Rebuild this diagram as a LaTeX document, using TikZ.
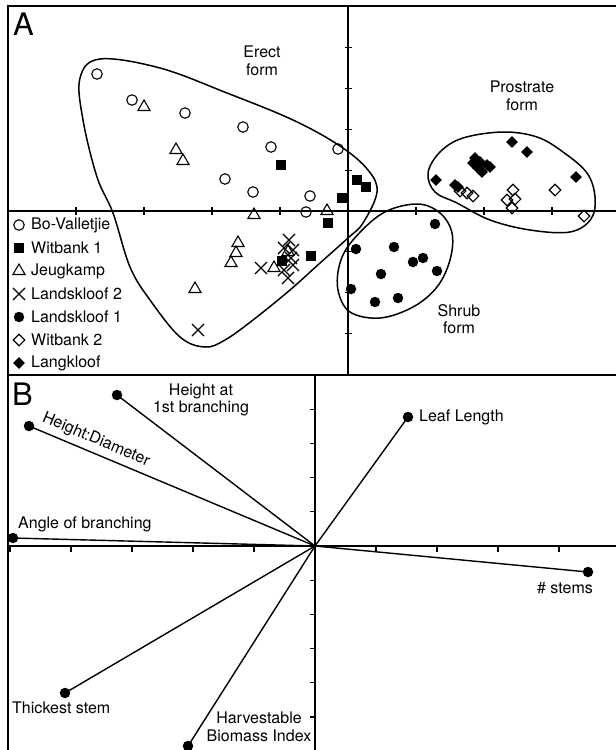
\documentclass[tikz,border=0pt]{standalone}
\usepackage{fontspec}
\setmainfont{TeX Gyre Heros}
\usetikzlibrary{shapes.geometric,shapes.misc}

\tikzset{
  mk/.style={inner sep=0pt, line width=1.1pt},
  bv/.style={mk, circle, draw, minimum size=10.5pt},
  wbone/.style={mk, rectangle, fill, minimum size=10pt},
  jk/.style={mk, regular polygon, regular polygon sides=3, draw, minimum size=14pt},
  lstwo/.style={mk, cross out, draw, minimum size=11pt},
  lsone/.style={mk, circle, fill, minimum size=10.5pt},
  wbtwo/.style={mk, diamond, draw, minimum size=12pt},
  lk/.style={mk, diamond, fill, minimum size=12pt},
  lbl/.style={font=\fontsize{16}{17.5}\selectfont, align=center, inner sep=0pt},
  panel/.style={font=\fontsize{31}{31}\selectfont, inner sep=0pt, anchor=north west},
  tipdot/.style={circle, fill, inner sep=0pt, minimum size=10.5pt},
  vec/.style={line width=1.4pt},
  hull/.style={line width=1.5pt},
  ax/.style={line width=1.2pt},
  frame/.style={line width=1.5pt},
}

\begin{document}
\begin{tikzpicture}[x=1pt,y=-1pt]
\useasboundingbox[fill=white] (0,0) rectangle (616,750);
% frames
\draw[frame] (616,6) -- (8,6) -- (8,750);
\draw[frame] (8,375) -- (616,375);

% panel A axes
\draw[ax] (8,211) -- (616,211);
\draw[ax] (348,6) -- (348,375);
\foreach \k in {1,...,4} {
  \draw[ax] (348-68*\k,207) -- (348-68*\k,215);
  \draw[ax] (348+68*\k,207) -- (348+68*\k,215);
}
\foreach \k in {1,...,4} \draw[ax] (344.5,211-40.8*\k) -- (351.5,211-40.8*\k);
\foreach \k in {1,...,3} \draw[ax] (344.5,211+40.8*\k) -- (351.5,211+40.8*\k);

% hulls
\draw[hull] plot[smooth cycle, tension=0.6] coordinates {(100,59) (160,68) (227,93) (293,120) (340,146) (368,170) (377,192) (363,223) (348,238) (320,263) (290,290) (253,320) (225,340) (205,347) (180,337) (150,300) (130,267) (113,213) (97,177) (83,120) (80,78)};
\draw[hull] plot[smooth cycle, tension=0.6] coordinates {(417,204) (440,213) (452,233) (450,260) (437,287) (413,307) (380,318) (350,312) (338,290) (340,263) (353,240) (383,213)};
\draw[hull] plot[smooth cycle, tension=0.6] coordinates {(428,173) (440,152) (463,138) (503,132) (537,137) (563,152) (587,173) (595,197) (591,219) (570,232) (530,230) (490,220) (457,203) (435,192)};

\node[lbl] (erect) at (262,61) {Erect\\form};
\node[lbl] (prostrate) at (522,96) {Prostrate\\form};
\node[lbl] (shrub) at (459,319) {Shrub\\form};

% data points
\foreach \x/\y [count=\i] in {97/74,132/100,185/113,243/127,271/147,338/149,225/179,253/192,310/196,306/212}
  \node[bv] (bv\i) at (\x,\y) {};
\foreach \x/\y [count=\i] in {144/107,176/150,183/161,254/215,327/211,238/243,236/253,231/263,195/289,274/268,288/252}
  \node[jk] (jk\i) at (\x,\y) {};
\foreach \x/\y [count=\i] in {281/165,357/180,366/187,342/198,328/223,311/256,282/261}
  \node[wbone] (wbone\i) at (\x,\y) {};
\foreach \x/\y [count=\i] in {198/330,261/268,289/240,284/248,293/250,291/258,293/265,284/270,288/278}
  \node[lstwo] (lstwo\i) at (\x,\y) {};
\foreach \x/\y [count=\i] in {435/224,356/249,394/247,413/262,423/258,437/271,381/274,351/289,375/302,398/298}
  \node[lsone] (lsone\i) at (\x,\y) {};
\foreach \x/\y [count=\i] in {460/191,467/193,473/196,513/190,507/200,515/199,512/208,555/190,584/216}
  \node[wbtwo] (wbtwo\i) at (\x,\y) {};
\foreach \x/\y [count=\i] in {512/142,527/152,436/180,455/185,458/187,576/177,475/158,473/163,480/162,478/168,487/165,490/167,482/172}
  \node[lk] (lk\i) at (\x,\y) {};

% legend
\foreach \s/\t [count=\i] in {bv/Bo-Valletjie,wbone/Witbank 1,jk/Jeugkamp,lstwo/Landskloof 2,lsone/Landskloof 1,wbtwo/Witbank 2,lk/Langkloof} {
  \node[\s] (key\i) at (19,202+23*\i) {};
  \node[lbl, anchor=west] (txt\i) at (31,202+23*\i) {\t};
}

\node[panel] (pa) at (13,13) {A};

% panel B axes
\draw[ax] (8,546) -- (616,546);
\draw[ax] (315,375) -- (315,750);
\foreach \k in {1,...,5} {
  \draw[ax] (315-61*\k,545) -- (315-61*\k,552);
  \draw[ax] (315+61*\k,545) -- (315+61*\k,552);
}
\foreach \k in {1,...,4} \draw[ax] (310,546-34.2*\k) -- (316,546-34.2*\k);
\foreach \k in {1,...,5} \draw[ax] (310,546+34.2*\k) -- (316,546+34.2*\k);

\node[panel] (pb) at (12,383) {B};

% loadings
\coordinate (o) at (315,546);
\node[tipdot] (hab) at (117,395) {};
\node[tipdot] (hd) at (29,426) {};
\node[tipdot] (ab) at (13,538) {};
\node[tipdot] (ts) at (65,693) {};
\node[tipdot] (hbi) at (188,746) {};
\node[tipdot] (ll) at (408,417) {};
\node[tipdot] (st) at (588,572) {};
\foreach \e in {hab,hd,ab,ts,hbi,ll,st} \draw[vec] (o) -- (\e.center);

\node[lbl] (habt) at (201,400) {Height at\\1st branching};
\node[lbl, rotate=-23] (hdt) at (96,440) {Height:Diameter};
\node[lbl, anchor=west] (abt) at (18,524) {Angle of branching};
\node[lbl, anchor=west] (tst) at (12,708) {Thickest stem};
\node[lbl] (hbit) at (259,727) {Harvestable\\Biomass Index};
\node[lbl, anchor=west] (llt) at (419,417) {Leaf Length};
\node[lbl] (stt) at (565,588) {\# stems};
\end{tikzpicture}
\end{document}
